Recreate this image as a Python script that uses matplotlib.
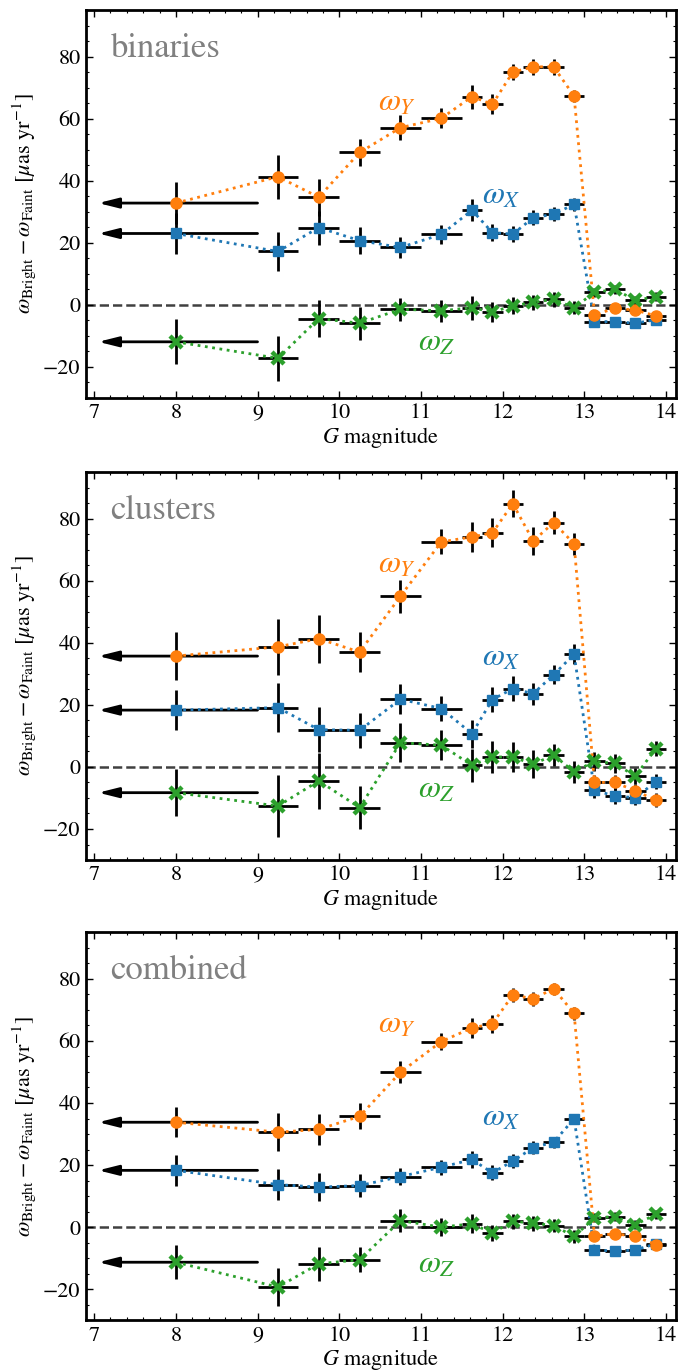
import numpy as np
import matplotlib
matplotlib.use("Agg")
import matplotlib.pyplot as plt
from matplotlib.ticker import MultipleLocator

plt.rcParams['font.family'] = ['STIXGeneral', 'DejaVu Serif']
plt.rcParams['mathtext.fontset'] = 'stix'

# ---------------- data ----------------
g_mag = [8.0, 9.25, 9.75, 10.25, 10.75, 11.25, 11.625, 11.875, 12.125,
         12.375, 12.625, 12.875, 13.125, 13.375, 13.625, 13.875]
g_halfwidth = [0.0, 0.25, 0.25, 0.25, 0.25, 0.25, 0.125, 0.125, 0.125,
               0.125, 0.125, 0.125, 0.125, 0.125, 0.125, 0.125]
limit_from = 9.0   # first bin: all stars brighter than G = 9
limit_to = 7.05

panel_names = ["binaries", "clusters", "combined"]

# binaries
wx_bin = [23.0, 17.2, 24.9, 20.7, 18.5, 22.7, 30.5, 23.3, 22.8, 28.1, 29.2, 32.4, -5.4, -5.4, -5.9, -4.8]
wx_bin_err = [6.5, 6.2, 5.5, 4.3, 3.5, 3.0, 3.6, 2.8, 2.7, 2.5, 2.2, 2.0, 1.3, 1.3, 1.3, 1.3]
wy_bin = [32.8, 41.3, 34.7, 49.1, 57.1, 60.1, 67.1, 64.6, 75.0, 76.7, 76.7, 67.3, -3.2, -1.1, -1.7, -3.5]
wy_bin_err = [6.8, 7.1, 6.0, 4.5, 4.0, 3.2, 3.9, 3.2, 2.7, 2.5, 2.5, 2.0, 1.3, 1.3, 1.3, 1.3]
wz_bin = [-11.9, -17.2, -4.4, -5.9, -1.4, -1.9, -0.9, -2.3, -0.3, 0.8, 1.8, -0.9, 4.0, 5.0, 1.5, 2.6]
wz_bin_err = [7.2, 7.3, 6.0, 5.3, 3.7, 3.5, 3.9, 3.2, 2.7, 2.5, 2.5, 2.0, 1.5, 1.5, 1.5, 1.5]

# clusters
wx_clu = [18.3, 19.1, 12.0, 11.8, 21.8, 18.8, 10.7, 21.7, 25.2, 23.6, 29.7, 36.3, -7.5, -9.4, -9.9, -4.8]
wx_clu_err = [6.5, 7.9, 7.3, 5.6, 4.8, 4.0, 4.5, 4.1, 4.0, 3.5, 3.1, 3.2, 2.6, 2.6, 2.4, 2.4]
wy_clu = [35.7, 38.7, 41.3, 37.0, 55.0, 72.5, 74.1, 75.4, 84.8, 72.8, 78.7, 71.9, -5.0, -5.0, -7.7, -10.7]
wy_clu_err = [7.8, 9.0, 7.8, 6.4, 5.3, 4.0, 4.9, 4.7, 4.3, 4.4, 3.6, 3.5, 2.5, 2.5, 2.3, 2.2]
wz_clu = [-8.3, -12.6, -4.5, -13.1, 7.8, 7.0, 0.5, 3.2, 3.2, 0.9, 3.8, -1.6, 1.8, 1.1, -3.0, 5.9]
wz_clu_err = [7.5, 9.9, 9.0, 6.8, 6.2, 4.8, 5.3, 5.1, 4.7, 4.6, 3.6, 3.5, 3.0, 3.2, 2.5, 2.4]

# combined
wx_com = [18.3, 13.7, 12.9, 13.4, 16.3, 19.3, 21.8, 17.5, 21.3, 25.6, 27.4, 34.9, -7.2, -7.8, -7.3, -5.4]
wx_com_err = [4.9, 5.1, 4.5, 3.8, 2.8, 2.4, 2.7, 2.4, 2.2, 2.0, 1.8, 1.7, 1.3, 1.3, 1.3, 1.3]
wy_com = [33.8, 30.6, 31.5, 35.7, 49.9, 59.8, 64.2, 65.5, 74.8, 73.6, 76.8, 68.9, -2.9, -2.1, -3.0, -5.6]
wy_com_err = [4.8, 6.2, 5.1, 4.2, 3.5, 2.7, 3.2, 3.0, 2.2, 2.2, 2.0, 2.0, 1.3, 1.3, 1.3, 1.3]
wz_com = [-11.3, -19.3, -11.8, -10.5, 2.1, 0.0, 1.1, -1.9, 1.9, 1.3, 0.5, -3.0, 3.0, 3.4, 0.8, 4.1]
wz_com_err = [5.5, 6.1, 5.4, 4.0, 3.7, 2.8, 3.1, 2.7, 2.4, 2.4, 2.2, 2.0, 1.5, 1.5, 1.5, 1.5]

panel_data = [
    [(wx_bin, wx_bin_err), (wy_bin, wy_bin_err), (wz_bin, wz_bin_err)],
    [(wx_clu, wx_clu_err), (wy_clu, wy_clu_err), (wz_clu, wz_clu_err)],
    [(wx_com, wx_com_err), (wy_com, wy_com_err), (wz_com, wz_com_err)],
]

comp_labels = [r"$\omega_X$", r"$\omega_Y$", r"$\omega_Z$"]
comp_colors = ["#1f77b4", "#ff7f0e", "#2ca02c"]
comp_markers = ["s", "o", "x"]
comp_msize = [7, 8, 8]
comp_mew = [1.0, 1.0, 3.2]

# label positions (data coords) per panel: X, Y, Z
label_pos = [
    [(11.75, 32.5), (10.47, 62.5), (10.97, -14.8)],
    [(11.75, 32.5), (10.47, 62.5), (10.97, -10.0)],
    [(11.75, 32.5), (10.47, 62.5), (10.97, -14.8)],
]

# ---------------- figure ----------------
fig = plt.figure(figsize=(6.89, 13.71), dpi=100)
bottoms = [0.7097, 0.3727, 0.037]
left, width, height = 0.1248, 0.856, 0.283

for p in range(3):
    ax = fig.add_axes([left, bottoms[p], width, height])
    ax.axhline(0, ls='--', color='0.25', lw=1.8, zorder=1)
    for c in range(3):
        vals, errs = panel_data[p][c]
        ax.errorbar(g_mag, vals, xerr=g_halfwidth, yerr=errs, fmt='none',
                    ecolor='k', elinewidth=2.0, capsize=0, zorder=2)
        ax.annotate('', xy=(limit_to, vals[0]), xytext=(limit_from, vals[0]),
                    arrowprops=dict(arrowstyle='-|>,head_length=0.8,head_width=0.2',
                                    color='k', lw=2.0, shrinkA=0, shrinkB=0,
                                    mutation_scale=15),
                    zorder=2)
    for c in range(3):
        vals, errs = panel_data[p][c]
        ax.plot(g_mag, vals, ls=':', lw=2.0, color=comp_colors[c],
                marker=comp_markers[c], ms=comp_msize[c], mew=comp_mew[c],
                zorder=3 + c)
        ax.text(label_pos[p][c][0], label_pos[p][c][1], comp_labels[c],
                color=comp_colors[c], fontsize=23, ha='left', va='baseline')

    ax.text(7.2, 80, panel_names[p], color='0.5', fontsize=25,
            ha='left', va='baseline')

    ax.set_xlim(6.9, 14.12)
    ax.set_ylim(-30, 95)
    ax.xaxis.set_major_locator(MultipleLocator(1))
    ax.xaxis.set_minor_locator(MultipleLocator(0.2))
    ax.yaxis.set_major_locator(MultipleLocator(20))
    ax.yaxis.set_minor_locator(MultipleLocator(5))
    ax.tick_params(which='both', direction='in', top=True, right=True,
                   labelsize=16)
    ax.tick_params(which='major', length=5, width=1.0, pad=4)
    ax.tick_params(which='minor', length=2.5, width=0.8)
    for s in ax.spines.values():
        s.set_linewidth(2.0)
    ax.set_xlabel(r"$G$ magnitude", fontsize=16, labelpad=1)
    ax.set_ylabel(r"$\omega_{\rm Bright} - \omega_{\rm Faint}$ [$\mu$as yr$^{-1}$]",
                  fontsize=16, labelpad=4)

fig.savefig("out.png", dpi=100)
